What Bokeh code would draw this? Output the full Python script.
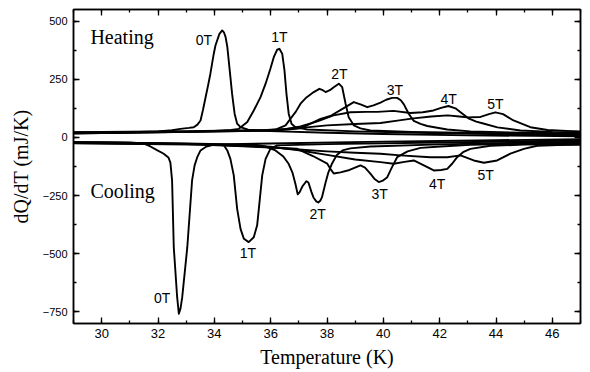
from bokeh.plotting import figure
from bokeh.models import LinearAxis, SingleIntervalTicker, Range1d, ColumnDataSource, CustomJSTickFormatter
from bokeh.core.properties import value
from bokeh.embed import file_html
from bokeh.resources import INLINE

# ---------------- data (Temperature in K, dQ/dT in mJ/K) ----------------
# Heating curves
heat_0T_T = [29.0, 30.0, 31.0, 32.0, 32.5, 32.8, 33.1, 33.27, 33.4, 33.51, 33.6, 33.69, 33.78, 33.86, 33.98, 34.04, 34.10, 34.18, 34.28, 34.34, 34.40, 34.46, 34.51, 34.57, 34.63, 34.68, 34.72, 34.81, 34.93, 35.2, 36.0, 38.0, 40.0, 43.0, 47.0]
heat_0T_Q = [17, 19, 22, 26, 31, 37, 41, 44, 55, 73, 120, 173, 225, 274, 360, 395, 417, 445, 460, 452, 431, 390, 331, 260, 188, 140, 102, 59, 44, 33, 27, 20, 15, 9, 5]

heat_1T_T = [29.0, 31.0, 33.0, 34.0, 34.6, 34.87, 35.17, 35.40, 35.64, 35.82, 35.99, 36.11, 36.23, 36.31, 36.41, 36.49, 36.56, 36.64, 36.74, 36.88, 37.3, 39.0, 42.0, 47.0]
heat_1T_Q = [18, 20, 24, 28, 32, 37, 66, 116, 173, 231, 295, 345, 377, 381, 360, 288, 188, 102, 59, 44, 34, 26, 18, 9]

heat_2T_T = [29.0, 32.0, 35.0, 36.17, 36.53, 36.70, 36.9, 37.06, 37.27, 37.53, 37.73, 37.85, 37.95, 38.1, 38.24, 38.42, 38.54, 38.66, 38.77, 38.95, 39.19, 39.54, 41.0, 44.0, 47.0]
heat_2T_Q = [19, 22, 27, 34, 52, 80, 112, 145, 172, 195, 209, 203, 195, 203, 216, 231, 216, 145, 87, 52, 39, 30, 24, 18, 13]

heat_3T_T = [29.0, 33.0, 36.0, 36.6, 37.06, 37.4, 37.77, 38.12, 38.58, 38.95, 39.19, 39.43, 39.65, 39.90, 40.1, 40.31, 40.49, 40.62, 40.73, 40.90, 41.08, 41.32, 41.56, 42.27, 43.09, 45.0, 47.0]
heat_3T_Q = [20, 24, 29, 34, 39, 58, 80, 92, 125, 152, 142, 130, 138, 150, 162, 170, 170, 160, 142, 102, 71, 58, 49, 34, 26, 20, 17]

heat_4T_T = [29.0, 33.0, 36.0, 36.5, 37.06, 37.66, 38.23, 38.83, 39.4, 39.79, 40.36, 40.96, 41.4, 41.78, 42.05, 42.31, 42.56, 42.74, 43.02, 43.3, 43.55, 44.05, 44.87, 46.0, 47.0]
heat_4T_Q = [21, 25, 30, 35, 47, 69, 95, 108, 110, 110, 114, 105, 108, 116, 127, 135, 125, 108, 82, 68, 60, 43, 30, 24, 22]

heat_5T_T = [29.0, 33.0, 36.0, 37.0, 38.0, 39.0, 39.9, 40.5, 41.07, 41.7, 42.28, 42.7, 42.99, 43.45, 43.75, 43.98, 44.25, 44.62, 45.22, 45.83, 46.5, 47.0]
heat_5T_Q = [22, 27, 32, 40, 52, 58, 62, 72, 82, 90, 95, 90, 86, 88, 100, 108, 100, 73, 44, 32, 28, 26]

# Cooling curves
cool_0T_T = [29.0, 30.0, 31.0, 31.48, 31.73, 31.98, 32.19, 32.37, 32.44, 32.50, 32.56, 32.68, 32.74, 32.80, 32.86, 33.04, 33.21, 33.30, 33.39, 33.51, 33.72, 34.04, 36.0, 40.0, 44.0, 47.0]
cool_0T_Q = [-20, -21, -22, -26, -39, -56, -69, -86, -108, -185, -472, -687, -758, -735, -687, -472, -185, -120, -86, -56, -39, -30, -26, -18, -12, -8]

cool_1T_T = [29.0, 32.0, 34.0, 34.34, 34.46, 34.57, 34.69, 34.81, 34.93, 35.05, 35.22, 35.40, 35.52, 35.58, 35.70, 35.82, 35.99, 36.23, 38.0, 42.0, 47.0]
cool_1T_Q = [-21, -25, -30, -34, -56, -92, -163, -307, -393, -436, -450, -429, -378, -307, -163, -92, -49, -34, -29, -22, -13]

cool_2T_T = [29.0, 33.0, 35.5, 35.82, 36.17, 36.45, 36.63, 36.77, 36.88, 36.96, 37.03, 37.13, 37.27, 37.34, 37.45, 37.52, 37.62, 37.69, 37.76, 37.82, 37.95, 38.05, 38.18, 38.34, 38.55, 38.83, 39.54, 42.0, 47.0]
cool_2T_Q = [-22, -26, -32, -39, -56, -82, -112, -150, -200, -245, -235, -210, -188, -194, -235, -258, -275, -280, -272, -258, -194, -150, -112, -77, -56, -47, -39, -30, -18]

cool_3T_T = [29.0, 33.0, 35.99, 36.94, 37.5, 38.01, 38.12, 38.24, 38.48, 38.8, 39.19, 39.35, 39.54, 39.7, 39.84, 39.98, 40.14, 40.3, 40.49, 40.86, 41.32, 42.03, 43.09, 47.0]
cool_3T_Q = [-23, -28, -43, -49, -80, -113, -135, -155, -150, -140, -120, -130, -156, -180, -192, -186, -171, -130, -85, -60, -45, -39, -32, -23]

cool_4T_T = [29.0, 34.0, 36.0, 37.0, 38.0, 39.0, 39.9, 40.37, 40.75, 41.08, 41.44, 41.79, 42.05, 42.27, 42.45, 42.62, 42.85, 43.09, 43.8, 45.0, 47.0]
cool_4T_Q = [-24, -30, -40, -55, -75, -95, -106, -113, -105, -99, -120, -142, -140, -135, -112, -85, -62, -49, -36, -31, -28]

cool_5T_T = [29.0, 34.0, 36.0, 37.0, 38.0, 39.0, 39.9, 40.61, 41.67, 42.27, 42.74, 43.21, 43.57, 44.04, 44.51, 44.99, 45.46, 46.2, 47.0]
cool_5T_Q = [-25, -32, -42, -52, -60, -66, -70, -77, -85, -85, -77, -99, -109, -99, -70, -49, -36, -33, -32]

# Curve labels
heat_label_T = [33.63, 36.31, 38.44, 40.41, 42.32, 43.98]
heat_label_Q = [417, 431, 274, 205, 166, 145]
cool_label_T = [32.15, 35.19, 37.67, 39.87, 41.91, 43.63]
cool_label_Q = [-689, -498, -328, -242, -199, -163]
field_labels = ["0T", "1T", "2T", "3T", "4T", "5T"]

mode_label_T = [29.6, 29.6]
mode_label_Q = [430, -232]
mode_labels = ["Heating", "Cooling"]

x_label = "Temperature (K)"
y_label = "dQ/dT (mJ/K)"

# ---------------- figure ----------------
p = figure(width=590, height=372,
           x_range=Range1d(29, 47), y_range=Range1d(-800, 550),
           output_backend="svg", toolbar_location=None,
           min_border_left=73, min_border_right=10,
           min_border_top=9, min_border_bottom=49)
p.background_fill_color = "white"
p.border_fill_color = "white"
p.grid.visible = False
p.outline_line_color = "black"
p.outline_line_width = 1.5

sans = "Liberation Sans"
serif = "Liberation Serif"

def style_axis(ax, show_labels=True):
    ax.axis_line_color = "black"
    ax.axis_line_width = 1.5
    ax.major_tick_in = 6
    ax.major_tick_out = 0
    ax.minor_tick_in = 3
    ax.minor_tick_out = 0
    ax.major_tick_line_width = 1.3
    ax.minor_tick_line_width = 1.3
    ax.major_tick_line_color = "black"
    ax.minor_tick_line_color = "black"
    ax.major_label_text_color = "black"
    ax.axis_label_text_color = "black"
    if not show_labels:
        ax.formatter = CustomJSTickFormatter(code="return '';")
        ax.major_label_standoff = 0

xb = p.xaxis[0]
xb.ticker = SingleIntervalTicker(interval=2, num_minor_ticks=2)
style_axis(xb)
xb.major_label_text_font = sans
xb.major_label_text_font_size = "13px"
xb.major_label_standoff = 5
xb.axis_label = x_label
xb.axis_label_text_font = serif
xb.axis_label_text_font_size = "20px"
xb.axis_label_text_font_style = "normal"
xb.axis_label_standoff = 5

yl = p.yaxis[0]
yl.ticker = SingleIntervalTicker(interval=250, num_minor_ticks=2)
style_axis(yl)
yl.major_label_text_font = sans
yl.major_label_text_font_size = "11px"
yl.major_label_standoff = 6
yl.axis_label = y_label
yl.axis_label_text_font = serif
yl.axis_label_text_font_size = "20px"
yl.axis_label_text_font_style = "normal"
yl.axis_label_standoff = 8

xt = LinearAxis(ticker=SingleIntervalTicker(interval=2, num_minor_ticks=2))
style_axis(xt, show_labels=False)
p.add_layout(xt, "above")
yr = LinearAxis(ticker=SingleIntervalTicker(interval=250, num_minor_ticks=2))
style_axis(yr, show_labels=False)
p.add_layout(yr, "right")

series = [
    (heat_0T_T, heat_0T_Q), (heat_1T_T, heat_1T_Q), (heat_2T_T, heat_2T_Q),
    (heat_3T_T, heat_3T_Q), (heat_4T_T, heat_4T_Q), (heat_5T_T, heat_5T_Q),
    (cool_0T_T, cool_0T_Q), (cool_1T_T, cool_1T_Q), (cool_2T_T, cool_2T_Q),
    (cool_3T_T, cool_3T_Q), (cool_4T_T, cool_4T_Q), (cool_5T_T, cool_5T_Q),
]
for T, Q in series:
    p.line(T, Q, line_color="black", line_width=1.9, line_join="round")

lab_src = ColumnDataSource(dict(x=heat_label_T + cool_label_T,
                                y=heat_label_Q + cool_label_Q,
                                t=field_labels + field_labels))
p.text(x="x", y="y", text="t", source=lab_src, text_font=value(sans),
       text_font_size="14px", text_align="center", text_baseline="middle",
       text_color="black")

mode_src = ColumnDataSource(dict(x=mode_label_T, y=mode_label_Q, t=mode_labels))
p.text(x="x", y="y", text="t", source=mode_src, text_font=value(serif),
       text_font_size="20px", text_align="left", text_baseline="middle",
       text_color="black")

open("out.html", "w").write(file_html(p, INLINE))
